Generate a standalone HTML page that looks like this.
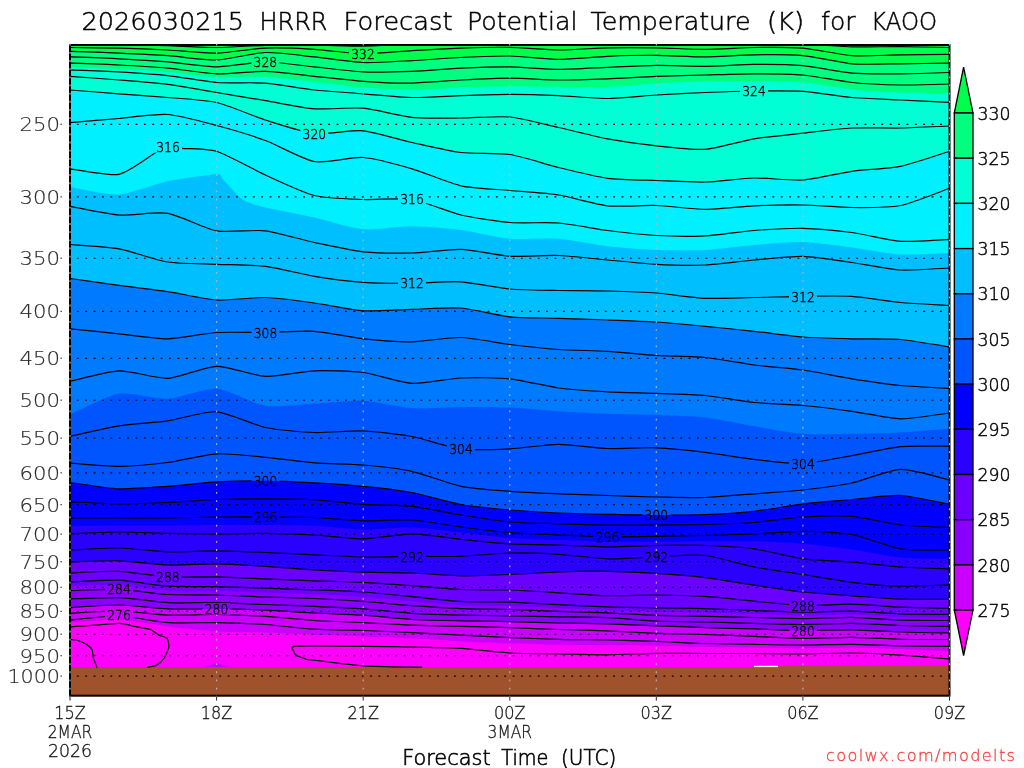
<!DOCTYPE html>
<html lang="en"><head><meta charset="utf-8"><title>HRRR Forecast Potential Temperature (K) for KAOO</title>
<style>
html,body{margin:0;padding:0;background:#fff;}
svg{display:block;}
text{font-family:"DejaVu Sans Light","DejaVu Sans","Liberation Sans",sans-serif;font-weight:200;}
.cl{fill:none;stroke:#000;stroke-width:1.2;stroke-linejoin:round;stroke-linecap:round;}
.lab{font-size:13.2px;fill:#000;stroke:#000;stroke-width:0.45;text-anchor:middle;}
.ax{font-size:19px;fill:#2a2a2a;stroke:#2a2a2a;stroke-width:0.15;}
.xl{font-size:18.2px;fill:#111;stroke:#111;stroke-width:0.3;}
.cb{font-size:16.9px;fill:#000;stroke:#000;stroke-width:0.45;}
.ti{font-size:25.2px;fill:#000;stroke:#000;stroke-width:0.5;}
.xt{font-size:20.6px;fill:#000;stroke:#000;stroke-width:0.6;}
.ft{font-size:16.2px;fill:#fa3c3c;stroke:#fa3c3c;stroke-width:0.3;}
</style></head><body>
<svg width="1024" height="768" viewBox="0 0 1024 768">
<rect x="0" y="0" width="1024" height="768" fill="#fff"/>
<defs>
<clipPath id="pc"><rect x="70" y="45" width="879.5" height="650.7"/></clipPath>
<mask id="lm" maskUnits="userSpaceOnUse" x="0" y="0" width="1024" height="768"><rect x="0" y="0" width="1024" height="768" fill="#fff"/>
<rect x="349" y="47.9" width="28" height="11.8" fill="#000"/>
<rect x="251.3" y="56.1" width="28" height="11.8" fill="#000"/>
<rect x="740" y="85.1" width="28" height="11.8" fill="#000"/>
<rect x="300.3" y="127.9" width="28" height="11.8" fill="#000"/>
<rect x="154" y="140.9" width="28" height="11.8" fill="#000"/>
<rect x="398" y="193.6" width="28" height="11.8" fill="#000"/>
<rect x="398" y="277.4" width="28" height="11.8" fill="#000"/>
<rect x="789" y="290.9" width="28" height="11.8" fill="#000"/>
<rect x="251.5" y="327.1" width="28" height="11.8" fill="#000"/>
<rect x="447" y="443.6" width="28" height="11.8" fill="#000"/>
<rect x="789" y="458.4" width="28" height="11.8" fill="#000"/>
<rect x="251.5" y="474.9" width="28" height="11.8" fill="#000"/>
<rect x="642.3" y="509.1" width="28" height="11.8" fill="#000"/>
<rect x="251.5" y="511.6" width="28" height="11.8" fill="#000"/>
<rect x="593.5" y="530.9" width="28" height="11.8" fill="#000"/>
<rect x="398" y="550.9" width="28" height="11.8" fill="#000"/>
<rect x="642.3" y="550.9" width="28" height="11.8" fill="#000"/>
<rect x="153.8" y="571.6" width="28" height="11.8" fill="#000"/>
<rect x="789" y="600.1" width="28" height="11.8" fill="#000"/>
<rect x="105" y="583.6" width="28" height="11.8" fill="#000"/>
<rect x="202.5" y="602.9" width="28" height="11.8" fill="#000"/>
<rect x="789" y="625.1" width="28" height="11.8" fill="#000"/>
<rect x="105" y="609.6" width="28" height="11.8" fill="#000"/>
</mask>
</defs>
<g clip-path="url(#pc)">
<rect x="70" y="45" width="879.5" height="650.7" fill="#00ff4a"/>
<path d="M70,51.3C75.7,51.5 107.5,52.6 118.9,53.1C130.3,53.6 156.3,54.8 167.7,55.6C179.1,56.4 205.2,60.4 216.6,60C228,59.6 254,52.9 265.4,52.5C276.8,52.1 302.9,55.7 314.3,56.9C325.7,58.1 351.8,62.1 363.2,62.5C374.6,62.9 400.6,61.2 412,60.6C423.4,60 449.5,58 460.9,57.5C472.3,57 498.3,55.8 509.8,56C521.2,56.2 547.2,59.4 558.6,59.4C570,59.4 596.1,56.8 607.5,56.3C618.9,55.8 644.9,55.2 656.3,55.3C667.7,55.4 693.8,57 705.2,56.9C716.6,56.8 742.7,55 754.1,54.8C765.5,54.6 791.5,54.6 802.9,55.6C814.3,56.6 840.4,62.8 851.8,63.8C863.2,64.8 889.2,63.9 900.6,63.8C912,63.7 943.8,63.2 949.5,63.1L951.5,63.1 L951.5,697.7 L68,697.7 L68,51.3Z" fill="#00ff7f"/>
<path d="M70,66.9C75.7,67.1 107.5,68.4 118.9,69C130.3,69.6 156.3,70.9 167.7,71.9C179.1,72.9 205.2,76.9 216.6,77.5C228,78.1 254,76.4 265.4,76.9C276.8,77.4 302.9,80.7 314.3,81.9C325.7,83.1 351.8,86.6 363.2,87.5C374.6,88.4 400.6,90 412,90C423.4,90 449.5,87.9 460.9,87.5C472.3,87.1 498.3,86.4 509.8,86.3C521.2,86.2 547.2,86.8 558.6,86.9C570,87 596.1,87.3 607.5,86.9C618.9,86.5 644.9,84.2 656.3,83.5C667.7,82.8 693.8,81.6 705.2,81.3C716.6,81 742.7,81.2 754.1,81.3C765.5,81.4 791.5,81.4 802.9,82.3C814.3,83.2 840.4,88.2 851.8,89.4C863.2,90.6 889.2,92.1 900.6,92.5C912,92.9 943.8,93 949.5,93.1L951.5,93.1 L951.5,697.7 L68,697.7 L68,66.9Z" fill="#00ffd4"/>
<path d="M70,90C75.7,90.4 107.5,92.9 118.9,93.8C130.3,94.7 156.3,96.5 167.7,97.5C179.1,98.5 205.2,99.9 216.6,102.5C228,105.1 254,116.4 265.4,120C276.8,123.6 302.9,132.2 314.3,133.5C325.7,134.8 351.8,129.8 363.2,130.8C374.6,131.9 400.6,140 412,142.5C423.4,145 449.5,151.1 460.9,152.5C472.3,153.9 498.3,152.8 509.8,154.5C521.2,156.2 547.2,164.7 558.6,167.5C570,170.3 596.1,176.8 607.5,178.3C618.9,179.8 644.9,180.1 656.3,180.5C667.7,180.9 693.8,182.3 705.2,182C716.6,181.7 742.7,178.2 754.1,178C765.5,177.8 791.5,180.8 802.9,180C814.3,179.2 840.4,172.9 851.8,171.3C863.2,169.7 889.2,168.6 900.6,166.3C912,164 943.8,153.1 949.5,151.3L951.5,151.3 L951.5,697.7 L68,697.7 L68,90Z" fill="#00f0ff"/>
<path d="M70,187C75.7,187.9 107.5,195.2 118.9,194.5C130.3,193.8 156.3,183.7 167.7,181.3C179.1,178.9 210.2,174.6 216.6,174.3C223,174 220.4,176.7 222.5,178.8C224.6,180.9 232.4,189.9 235,192.5C237.6,195.1 241.4,199.2 245,201C248.6,202.8 257.4,205.6 265.4,207.5C273.5,209.4 302.9,215 314.3,217.5C325.7,220 351.8,228.3 363.2,229.3C374.6,230.3 400.6,226.2 412,226.3C423.4,226.4 449.5,228.5 460.9,230C472.3,231.5 498.3,237.8 509.8,238.8C521.2,239.8 547.2,237.9 558.6,238.8C570,239.7 596.1,245 607.5,246.3C618.9,247.6 644.9,249.6 656.3,250C667.7,250.4 693.8,250.6 705.2,250C716.6,249.4 742.7,245.9 754.1,245C765.5,244.1 791.5,241.7 802.9,242C814.3,242.3 840.4,246 851.8,247.5C863.2,249 889.2,253.9 900.6,254.5C912,255.1 943.8,253.2 949.5,253L951.5,253 L951.5,697.7 L68,697.7 L68,187Z" fill="#00bfff"/>
<path d="M70,278.5C75.7,279.3 107.5,283.8 118.9,285.3C130.3,286.8 156.3,289.9 167.7,291.6C179.1,293.3 205.2,299.3 216.6,300C228,300.7 254,297.1 265.4,297.5C276.8,297.9 302.9,301.4 314.3,303C325.7,304.6 351.8,310.1 363.2,310.8C374.6,311.5 400.6,309.6 412,309.3C423.4,309 449.5,307.1 460.9,308C472.3,308.9 498.3,315.6 509.8,316.8C521.2,318 547.2,317.9 558.6,318.3C570,318.7 596.1,319.6 607.5,320C618.9,320.4 644.9,321.3 656.3,322C667.7,322.7 693.8,325.2 705.2,326.3C716.6,327.4 742.7,330.1 754.1,331.3C765.5,332.5 791.5,336.1 802.9,337C814.3,337.9 840.4,338.5 851.8,338.8C863.2,339.1 889.2,338.5 900.6,339.5C912,340.5 943.8,346.1 949.5,347L951.5,347 L951.5,697.7 L68,697.7 L68,278.5Z" fill="#007aff"/>
<path d="M70,414.5C75.7,412.1 107.5,395.6 118.9,393.8C130.3,392 156.3,399.4 167.7,398.8C179.1,398.2 205.2,388 216.6,388.8C228,389.6 254,404.1 265.4,405.8C276.8,407.6 302.9,404.4 314.3,403.8C325.7,403.2 351.8,400.3 363.2,400.8C374.6,401.3 400.6,407.6 412,408.3C423.4,409 449.5,407.1 460.9,407C472.3,406.9 498.3,407 509.8,407.5C521.2,408 547.2,410.6 558.6,411.3C570,412 596.1,413.4 607.5,413.8C618.9,414.2 644.9,414.6 656.3,415C667.7,415.4 693.8,416.2 705.2,417.5C716.6,418.8 742.7,424.4 754.1,426.3C765.5,428.2 791.5,432.9 802.9,433.8C814.3,434.7 840.4,434 851.8,433.8C863.2,433.6 889.2,433.1 900.6,432.5C912,431.9 943.8,429.2 949.5,428.8L951.5,428.8 L951.5,697.7 L68,697.7 L68,414.5Z" fill="#0055ff"/>
<path d="M70,482.5C75.7,483.2 107.5,488.4 118.9,488.8C130.3,489.2 156.3,487.1 167.7,486.3C179.1,485.5 205.2,482.4 216.6,481.8C228,481.2 254,480.7 265.4,480.8C276.8,480.9 302.9,482.2 314.3,482.8C325.7,483.4 351.8,485.2 363.2,486.3C374.6,487.4 400.6,490.4 412,492.5C423.4,494.6 449.5,502.5 460.9,504.5C472.3,506.5 498.3,509 509.8,510C521.2,511 547.2,512.5 558.6,513C570,513.5 596.1,514.1 607.5,514.3C618.9,514.5 644.9,515 656.3,515C667.7,515 693.8,514.9 705.2,514.5C716.6,514.1 742.7,512.5 754.1,511.3C765.5,510.1 791.5,505.2 802.9,503.8C814.3,502.4 840.4,500.5 851.8,499.5C863.2,498.5 889.2,494.9 900.6,495.5C912,496.1 943.8,503.3 949.5,504.3L951.5,504.3 L951.5,697.7 L68,697.7 L68,482.5Z" fill="#0000ff"/>
<path d="M70,526.3C75.7,526.2 107.5,525.6 118.9,525.5C130.3,525.4 156.3,525.6 167.7,525.5C179.1,525.4 205.2,525.1 216.6,525C228,524.9 254,524.9 265.4,525C276.8,525.1 302.9,525.2 314.3,525.7C325.7,526.2 351.8,529.3 363.2,529.5C374.6,529.7 400.6,527.1 412,527.5C423.4,527.9 449.5,531.3 460.9,532.5C472.3,533.7 498.3,537.1 509.8,538C521.2,538.9 547.2,539.6 558.6,540C570,540.4 596.1,541.6 607.5,541.8C618.9,542 644.9,541.9 656.3,541.8C667.7,541.7 693.8,541.4 705.2,541.3C716.6,541.2 742.7,541 754.1,541.3C765.5,541.6 791.5,542.8 802.9,543.8C814.3,544.8 840.4,547.9 851.8,549.5C863.2,551.1 889.2,556.4 900.6,557.5C912,558.6 943.8,558.6 949.5,558.8L951.5,558.8 L951.5,697.7 L68,697.7 L68,526.3Z" fill="#2a00ff"/>
<path d="M70,561.8C75.7,561.7 107.5,560.4 118.9,560.8C130.3,561.2 156.3,564.6 167.7,565C179.1,565.4 205.2,563.6 216.6,563.8C228,564 254,565.6 265.4,566.3C276.8,567 302.9,569.3 314.3,570C325.7,570.7 351.8,571.9 363.2,572.2C374.6,572.6 400.6,572.6 412,573C423.4,573.4 449.5,575.6 460.9,575.8C472.3,576 498.3,574.9 509.8,574.5C521.2,574.1 547.2,572.4 558.6,572C570,571.6 596.1,571.1 607.5,571.3C618.9,571.5 644.9,572.7 656.3,573.4C667.7,574.1 693.8,576.2 705.2,577.6C716.6,579 742.7,583.4 754.1,585.1C765.5,586.8 791.5,590.8 802.9,592C814.3,593.2 840.4,595 851.8,595.8C863.2,596.6 889.2,598.8 900.6,599.2C912,599.6 943.8,599.4 949.5,599.4L951.5,599.4 L951.5,697.7 L68,697.7 L68,561.8Z" fill="#6a00ff"/>
<path d="M70,586.3C75.7,586.1 107.5,584.3 118.9,584.8C130.3,585.3 156.3,589.6 167.7,590.4C179.1,591.1 205.2,590.5 216.6,590.8C228,591.1 254,592.2 265.4,592.6C276.8,593 302.9,593.8 314.3,594.2C325.7,594.7 351.8,595.9 363.2,596.7C374.6,597.5 400.6,600.2 412,601.2C423.4,602.2 449.5,604.5 460.9,605C472.3,605.5 498.3,605.5 509.8,605.9C521.2,606.2 547.2,607.5 558.6,608C570,608.5 596.1,609.5 607.5,609.9C618.9,610.3 644.9,611.2 656.3,611.5C667.7,611.9 693.8,612.2 705.2,612.5C716.6,612.8 742.7,613.7 754.1,614C765.5,614.3 791.5,615.3 802.9,615.4C814.3,615.4 840.4,614 851.8,614.2C863.2,614.4 889.2,616.6 900.6,617C912,617.4 943.8,617.4 949.5,617.4L951.5,617.4 L951.5,697.7 L68,697.7 L68,586.3Z" fill="#8a00ff"/>
<path d="M70,607.6C75.7,607.3 107.5,604.8 118.9,605C130.3,605.2 156.3,608.4 167.7,608.9C179.1,609.4 205.2,608.8 216.6,608.9C228,609 254,609.6 265.4,610.1C276.8,610.6 302.9,612.4 314.3,613C325.7,613.6 351.8,614.3 363.2,615.1C374.6,615.9 400.6,618.8 412,619.5C423.4,620.2 449.5,620.6 460.9,620.8C472.3,621 498.3,621.3 509.8,621.6C521.2,621.9 547.2,622.7 558.6,623C570,623.3 596.1,623.6 607.5,623.9C618.9,624.2 644.9,625.4 656.3,625.8C667.7,626.2 693.8,627.2 705.2,627.6C716.6,628 742.7,628.6 754.1,628.9C765.5,629.2 791.5,630.4 802.9,630.5C814.3,630.6 840.4,629.6 851.8,629.8C863.2,630 889.2,631.6 900.6,632C912,632.4 943.8,632.9 949.5,633L951.5,633 L951.5,697.7 L68,697.7 L68,607.6Z" fill="#cc00ff"/>
<path d="M70,622.6C75.7,622.3 107.5,619.7 118.9,620.1C130.3,620.5 156.3,625.1 167.7,626.4C179.1,627.7 205.2,630.7 216.6,631.4C228,632.1 254,632.2 265.4,632.6C276.8,633 302.9,634.4 314.3,634.8C325.7,635.2 351.8,636 363.2,636.4C374.6,636.8 400.6,637.7 412,638.3C423.4,638.9 449.5,640.8 460.9,641.4C472.3,642 498.3,642.9 509.8,643.3C521.2,643.7 547.2,644.6 558.6,644.8C570,645 596.1,645 607.5,645.1C618.9,645.2 644.9,645.6 656.3,645.8C667.7,646 693.8,646.8 705.2,647C716.6,647.2 742.7,647.4 754.1,647.6C765.5,647.8 791.5,648.5 802.9,648.5C814.3,648.5 840.4,647.5 851.8,647.6C863.2,647.7 889.2,648.9 900.6,649.3C912,649.7 943.8,651.2 949.5,651.4L951.5,651.4 L951.5,697.7 L68,697.7 L68,622.6Z" fill="#ff00ff"/>
<polygon points="201.5,667.5 216.6,663 231.5,667.5" fill="#cc00ff"/>
<polygon points="68,667.2 754,667.2 754,667 778,667 778,666.1 952,666.1 952,698 68,698" fill="#a0522d"/>
<rect x="754" y="665.8" width="24" height="1.3" fill="#fff"/>
<g mask="url(#lm)">
<path class="cl" d="M70,620.1C75.7,619.6 107.5,615.7 118.9,616C130.3,616.3 156.3,621.8 167.7,622.6C179.1,623.4 205.2,622.4 216.6,622.6C228,622.8 254,623.7 265.4,624.5C276.8,625.3 302.9,628.5 314.3,629.2C325.7,629.9 351.8,630.1 363.2,630.5C374.6,630.9 400.6,632.1 412,632.6C423.4,633.1 449.5,634.5 460.9,635.1C472.3,635.7 498.3,637.1 509.8,637.6C521.2,638.1 547.2,639 558.6,639.3C570,639.6 596.1,639.7 607.5,639.9C618.9,640.1 644.9,641 656.3,641.4C667.7,641.8 693.8,643.2 705.2,643.5C716.6,643.8 742.7,644.1 754.1,644.3C765.5,644.5 791.5,645.1 802.9,645.1C814.3,645.1 840.4,644.2 851.8,644.3C863.2,644.4 889.2,645.6 900.6,645.8C912,646 943.8,646.3 949.5,646.4"/>
<path class="cl" d="M70,613.3C75.7,613 107.5,610.8 118.9,611C130.3,611.2 156.3,614.7 167.7,615.1C179.1,615.5 205.2,614.3 216.6,614.5C228,614.7 254,615.7 265.4,616.4C276.8,617.1 302.9,619.8 314.3,620.5C325.7,621.2 351.8,622.1 363.2,622.6C374.6,623.1 400.6,624.7 412,625.1C423.4,625.5 449.5,626.1 460.9,626.4C472.3,626.7 498.3,627.2 509.8,627.6C521.2,628 547.2,629.1 558.6,629.5C570,629.9 596.1,630.4 607.5,630.8C618.9,631.2 644.9,632.9 656.3,633.3C667.7,633.7 693.8,634.1 705.2,634.5C716.6,634.9 742.7,636 754.1,636.4C765.5,636.8 791.5,638.2 802.9,638.3C814.3,638.4 840.4,637.2 851.8,637.3C863.2,637.4 889.2,639 900.6,639.3C912,639.6 943.8,639.5 949.5,639.5"/>
<path class="cl" d="M70,607.6C75.7,607.3 107.5,604.8 118.9,605C130.3,605.2 156.3,608.4 167.7,608.9C179.1,609.4 205.2,608.8 216.6,608.9C228,609 254,609.6 265.4,610.1C276.8,610.6 302.9,612.4 314.3,613C325.7,613.6 351.8,614.3 363.2,615.1C374.6,615.9 400.6,618.8 412,619.5C423.4,620.2 449.5,620.6 460.9,620.8C472.3,621 498.3,621.3 509.8,621.6C521.2,621.9 547.2,622.7 558.6,623C570,623.3 596.1,623.6 607.5,623.9C618.9,624.2 644.9,625.4 656.3,625.8C667.7,626.2 693.8,627.2 705.2,627.6C716.6,628 742.7,628.6 754.1,628.9C765.5,629.2 791.5,630.4 802.9,630.5C814.3,630.6 840.4,629.6 851.8,629.8C863.2,630 889.2,631.6 900.6,632C912,632.4 943.8,632.9 949.5,633"/>
<path class="cl" d="M70,598.9C75.7,598.7 107.5,597.2 118.9,597.6C130.3,598 156.3,602 167.7,602.6C179.1,603.2 205.2,602.4 216.6,602.6C228,602.8 254,604.1 265.4,604.5C276.8,604.9 302.9,605.9 314.3,606.4C325.7,606.9 351.8,608.1 363.2,608.9C374.6,609.7 400.6,612.6 412,613.3C423.4,614 449.5,614.8 460.9,615.1C472.3,615.4 498.3,615.6 509.8,615.8C521.2,616 547.2,616.6 558.6,616.8C570,617 596.1,617.1 607.5,617.6C618.9,618.1 644.9,620.5 656.3,621C667.7,621.5 693.8,621.7 705.2,622C716.6,622.3 742.7,623 754.1,623.3C765.5,623.6 791.5,624.5 802.9,624.5C814.3,624.5 840.4,623.2 851.8,623.3C863.2,623.4 889.2,625.1 900.6,625.5C912,625.9 943.8,626.3 949.5,626.4"/>
<path class="cl" d="M70,590.6C75.7,590.5 107.5,588.9 118.9,589.4C130.3,589.9 156.3,593.8 167.7,594.5C179.1,595.2 205.2,594.7 216.6,595C228,595.3 254,596.6 265.4,597C276.8,597.4 302.9,598 314.3,598.5C325.7,599 351.8,600.6 363.2,601.4C374.6,602.2 400.6,604.9 412,605.7C423.4,606.5 449.5,608.2 460.9,608.6C472.3,609 498.3,609.2 509.8,609.5C521.2,609.8 547.2,611 558.6,611.4C570,611.8 596.1,612.4 607.5,612.9C618.9,613.4 644.9,614.9 656.3,615.3C667.7,615.7 693.8,616.1 705.2,616.4C716.6,616.7 742.7,617.2 754.1,617.5C765.5,617.8 791.5,618.6 802.9,618.6C814.3,618.6 840.4,617.1 851.8,617.3C863.2,617.5 889.2,619.7 900.6,620.1C912,620.5 943.8,620.5 949.5,620.5"/>
<path class="cl" d="M70,582C75.7,581.8 107.5,579.7 118.9,580.2C130.3,580.7 156.3,585.5 167.7,586.2C179.1,586.9 205.2,586.4 216.6,586.6C228,586.8 254,587.8 265.4,588.2C276.8,588.6 302.9,589.6 314.3,590C325.7,590.4 351.8,591.2 363.2,592C374.6,592.8 400.6,595.6 412,596.7C423.4,597.8 449.5,600.8 460.9,601.4C472.3,602 498.3,601.8 509.8,602.2C521.2,602.6 547.2,604.1 558.6,604.6C570,605.1 596.1,606.5 607.5,606.9C618.9,607.3 644.9,607.6 656.3,607.8C667.7,608 693.8,608.3 705.2,608.6C716.6,608.9 742.7,610.1 754.1,610.5C765.5,610.9 791.5,612 802.9,612.1C814.3,612.2 840.4,610.9 851.8,611.1C863.2,611.3 889.2,613.5 900.6,613.9C912,614.3 943.8,614.3 949.5,614.3"/>
<path class="cl" d="M70,573C75.7,572.8 107.5,570.8 118.9,571.3C130.3,571.8 156.3,576.4 167.7,577C179.1,577.6 205.2,576.6 216.6,576.8C228,577 254,578.4 265.4,578.9C276.8,579.4 302.9,580.4 314.3,580.8C325.7,581.2 351.8,581.8 363.2,582.4C374.6,583 400.6,584.9 412,585.7C423.4,586.5 449.5,589 460.9,589.5C472.3,590 498.3,589.6 509.8,590C521.2,590.4 547.2,592.1 558.6,592.8C570,593.5 596.1,595.4 607.5,595.7C618.9,596 644.9,594.9 656.3,595C667.7,595.1 693.8,595.7 705.2,596.4C716.6,597.1 742.7,600 754.1,601.1C765.5,602.2 791.5,605.2 802.9,605.6C814.3,606 840.4,603.9 851.8,604.1C863.2,604.3 889.2,606.7 900.6,607.2C912,607.7 943.8,608.2 949.5,608.3"/>
<path class="cl" d="M70,561.8C75.7,561.7 107.5,560.4 118.9,560.8C130.3,561.2 156.3,564.6 167.7,565C179.1,565.4 205.2,563.6 216.6,563.8C228,564 254,565.6 265.4,566.3C276.8,567 302.9,569.3 314.3,570C325.7,570.7 351.8,571.9 363.2,572.2C374.6,572.6 400.6,572.6 412,573C423.4,573.4 449.5,575.6 460.9,575.8C472.3,576 498.3,574.9 509.8,574.5C521.2,574.1 547.2,572.4 558.6,572C570,571.6 596.1,571.1 607.5,571.3C618.9,571.5 644.9,572.7 656.3,573.4C667.7,574.1 693.8,576.2 705.2,577.6C716.6,579 742.7,583.4 754.1,585.1C765.5,586.8 791.5,590.8 802.9,592C814.3,593.2 840.4,595 851.8,595.8C863.2,596.6 889.2,598.8 900.6,599.2C912,599.6 943.8,599.4 949.5,599.4"/>
<path class="cl" d="M70,550C75.7,549.8 107.5,547.8 118.9,548C130.3,548.2 156.3,551.5 167.7,551.8C179.1,552.1 205.2,550.7 216.6,550.8C228,550.9 254,552 265.4,552.5C276.8,553 302.9,554.3 314.3,554.8C325.7,555.3 351.8,556.8 363.2,557C374.6,557.2 400.6,556.6 412,556.5C423.4,556.4 449.5,556.7 460.9,556.3C472.3,555.9 498.3,553.2 509.8,553C521.2,552.8 547.2,553.6 558.6,554.3C570,555 596.1,558.5 607.5,558.8C618.9,559.1 644.9,557.2 656.3,556.8C667.7,556.4 693.8,554.3 705.2,555.5C716.6,556.7 742.7,564.8 754.1,567C765.5,569.2 791.5,572.7 802.9,574.5C814.3,576.3 840.4,580.9 851.8,582.3C863.2,583.7 889.2,585.9 900.6,586.2C912,586.5 943.8,585 949.5,584.8"/>
<path class="cl" d="M70,533.8C75.7,533.6 107.5,532.1 118.9,532C130.3,531.9 156.3,533.1 167.7,533.3C179.1,533.5 205.2,533.8 216.6,533.8C228,533.8 254,533.2 265.4,533.3C276.8,533.4 302.9,534.4 314.3,535C325.7,535.6 351.8,538.9 363.2,538.8C374.6,538.7 400.6,533.7 412,533.8C423.4,533.9 449.5,538.1 460.9,539.3C472.3,540.5 498.3,543.1 509.8,543.8C521.2,544.5 547.2,544.6 558.6,545C570,545.4 596.1,546.7 607.5,546.8C618.9,546.9 644.9,545.7 656.3,545.5C667.7,545.3 693.8,545.1 705.2,545.5C716.6,545.9 742.7,547.2 754.1,548.8C765.5,550.4 791.5,557.3 802.9,558.8C814.3,560.3 840.4,561 851.8,562C863.2,563 889.2,566.2 900.6,567C912,567.8 943.8,568.6 949.5,568.8"/>
<path class="cl" d="M70,518C75.7,518 107.5,518 118.9,518C130.3,518 156.3,518.1 167.7,518C179.1,517.9 205.2,517.1 216.6,517C228,516.9 254,516.9 265.4,517C276.8,517.1 302.9,517.1 314.3,517.5C325.7,517.9 351.8,520.5 363.2,520.8C374.6,521.1 400.6,519.3 412,520C423.4,520.7 449.5,525.5 460.9,527C472.3,528.5 498.3,531.6 509.8,532.5C521.2,533.4 547.2,534.5 558.6,535C570,535.5 596.1,536.6 607.5,536.8C618.9,537 644.9,536.5 656.3,536.3C667.7,536.1 693.8,535.8 705.2,535.5C716.6,535.2 742.7,534.3 754.1,533.8C765.5,533.3 791.5,531.2 802.9,531.3C814.3,531.4 840.4,532.5 851.8,534.5C863.2,536.5 889.2,547 900.6,548.8C912,550.6 943.8,549.9 949.5,550"/>
<path class="cl" d="M70,501.8C75.7,502 107.5,503.7 118.9,503.8C130.3,503.9 156.3,503 167.7,502.5C179.1,502 205.2,499.9 216.6,499.5C228,499.1 254,498.8 265.4,498.8C276.8,498.8 302.9,499.2 314.3,499.8C325.7,500.4 351.8,503.5 363.2,504.3C374.6,505.1 400.6,505.1 412,506.3C423.4,507.5 449.5,513.2 460.9,515C472.3,516.8 498.3,521 509.8,522C521.2,523 547.2,523.4 558.6,523.8C570,524.1 596.1,524.9 607.5,525C618.9,525.1 644.9,525.1 656.3,525C667.7,524.9 693.8,524.8 705.2,524.5C716.6,524.2 742.7,523.4 754.1,522.5C765.5,521.6 791.5,517.7 802.9,517C814.3,516.3 840.4,515.4 851.8,516.3C863.2,517.2 889.2,523.7 900.6,525C912,526.3 943.8,527.2 949.5,527.5"/>
<path class="cl" d="M70,482.5C75.7,483.2 107.5,488.4 118.9,488.8C130.3,489.2 156.3,487.1 167.7,486.3C179.1,485.5 205.2,482.4 216.6,481.8C228,481.2 254,480.7 265.4,480.8C276.8,480.9 302.9,482.2 314.3,482.8C325.7,483.4 351.8,485.2 363.2,486.3C374.6,487.4 400.6,490.4 412,492.5C423.4,494.6 449.5,502.5 460.9,504.5C472.3,506.5 498.3,509 509.8,510C521.2,511 547.2,512.5 558.6,513C570,513.5 596.1,514.1 607.5,514.3C618.9,514.5 644.9,515 656.3,515C667.7,515 693.8,514.9 705.2,514.5C716.6,514.1 742.7,512.5 754.1,511.3C765.5,510.1 791.5,505.2 802.9,503.8C814.3,502.4 840.4,500.5 851.8,499.5C863.2,498.5 889.2,494.9 900.6,495.5C912,496.1 943.8,503.3 949.5,504.3"/>
<path class="cl" d="M70,463C75.7,463.4 107.5,466.4 118.9,466.3C130.3,466.2 156.3,464 167.7,462.5C179.1,461 205.2,454.4 216.6,453.8C228,453.2 254,456.2 265.4,457.3C276.8,458.4 302.9,461.9 314.3,462.8C325.7,463.7 351.8,464 363.2,465C374.6,466 400.6,468.8 412,471.3C423.4,473.8 449.5,484 460.9,486.3C472.3,488.6 498.3,490.4 509.8,491.3C521.2,492.2 547.2,493.3 558.6,493.8C570,494.3 596.1,495.1 607.5,495.5C618.9,495.9 644.9,496.8 656.3,497C667.7,497.2 693.8,497.9 705.2,497.5C716.6,497.1 742.7,494.7 754.1,493.8C765.5,492.9 791.5,491.3 802.9,490C814.3,488.7 840.4,485.4 851.8,483C863.2,480.6 889.2,469.7 900.6,469.3C912,468.9 943.8,478.8 949.5,480"/>
<path class="cl" d="M70,436.3C75.7,435.1 107.5,427.6 118.9,425.8C130.3,424 156.3,422.4 167.7,420.8C179.1,419.2 205.2,411 216.6,411.8C228,412.6 254,425.1 265.4,427.5C276.8,429.9 302.9,432.1 314.3,432.5C325.7,432.9 351.8,430.5 363.2,431C374.6,431.5 400.6,434.4 412,436.5C423.4,438.6 449.5,447.6 460.9,449C472.3,450.4 498.3,449.3 509.8,448.8C521.2,448.3 547.2,444.3 558.6,444.3C570,444.3 596.1,448.1 607.5,448.5C618.9,448.9 644.9,447.4 656.3,447.8C667.7,448.2 693.8,450.9 705.2,452.3C716.6,453.7 742.7,458.1 754.1,459.4C765.5,460.7 791.5,463.9 802.9,463.5C814.3,463.1 840.4,457.6 851.8,455.6C863.2,453.6 889.2,447.7 900.6,446.6C912,445.5 943.8,446.3 949.5,446.3"/>
<path class="cl" d="M70,381.3C75.7,380.1 107.5,371.2 118.9,370.8C130.3,370.4 156.3,378.8 167.7,378.3C179.1,377.8 205.2,366.5 216.6,366.3C228,366.1 254,375.8 265.4,376.3C276.8,376.8 302.9,371.2 314.3,370.8C325.7,370.4 351.8,371 363.2,372.5C374.6,374 400.6,382.7 412,383.3C423.4,383.9 449.5,378.5 460.9,378C472.3,377.5 498.3,377.6 509.8,378.8C521.2,380 547.2,386.5 558.6,388C570,389.5 596.1,391.2 607.5,391.8C618.9,392.4 644.9,392.9 656.3,393.3C667.7,393.7 693.8,394.4 705.2,395.5C716.6,396.6 742.7,401.3 754.1,402.5C765.5,403.7 791.5,404.5 802.9,405.5C814.3,406.5 840.4,409.7 851.8,411.3C863.2,412.9 889.2,418.6 900.6,418.8C912,419 943.8,413.7 949.5,413"/>
<path class="cl" d="M70,328.8C75.7,329.4 107.5,332.6 118.9,333.8C130.3,335 156.3,339 167.7,338.8C179.1,338.6 205.2,333.2 216.6,332.5C228,331.8 254,332.6 265.4,332.5C276.8,332.4 302.9,330.6 314.3,331.3C325.7,332 351.8,337.6 363.2,338.8C374.6,340 400.6,342 412,341.8C423.4,341.6 449.5,337.2 460.9,337.5C472.3,337.8 498.3,343.1 509.8,344.5C521.2,345.9 547.2,348.7 558.6,349.5C570,350.3 596.1,350.6 607.5,351.3C618.9,352 644.9,354.8 656.3,355.5C667.7,356.2 693.8,356.4 705.2,357.5C716.6,358.6 742.7,363.5 754.1,365C765.5,366.5 791.5,368.4 802.9,370C814.3,371.6 840.4,377 851.8,378.8C863.2,380.6 889.2,384.4 900.6,385.5C912,386.6 943.8,388 949.5,388.3"/>
<path class="cl" d="M70,278.5C75.7,279.3 107.5,283.8 118.9,285.3C130.3,286.8 156.3,289.9 167.7,291.6C179.1,293.3 205.2,299.3 216.6,300C228,300.7 254,297.1 265.4,297.5C276.8,297.9 302.9,301.4 314.3,303C325.7,304.6 351.8,310.1 363.2,310.8C374.6,311.5 400.6,309.6 412,309.3C423.4,309 449.5,307.1 460.9,308C472.3,308.9 498.3,315.6 509.8,316.8C521.2,318 547.2,317.9 558.6,318.3C570,318.7 596.1,319.6 607.5,320C618.9,320.4 644.9,321.3 656.3,322C667.7,322.7 693.8,325.2 705.2,326.3C716.6,327.4 742.7,330.1 754.1,331.3C765.5,332.5 791.5,336.1 802.9,337C814.3,337.9 840.4,338.5 851.8,338.8C863.2,339.1 889.2,338.5 900.6,339.5C912,340.5 943.8,346.1 949.5,347"/>
<path class="cl" d="M70,244.5C75.7,245 107.5,246.8 118.9,248.8C130.3,250.8 156.3,260.2 167.7,262C179.1,263.8 205.2,263.8 216.6,264.3C228,264.8 254,264.9 265.4,266.3C276.8,267.7 302.9,274.4 314.3,276.3C325.7,278.2 351.8,281.5 363.2,282.3C374.6,283.1 400.6,283.3 412,283.2C423.4,283.1 449.5,281.1 460.9,281.8C472.3,282.5 498.3,288 509.8,289C521.2,290 547.2,290.3 558.6,290.5C570,290.7 596.1,290.7 607.5,291C618.9,291.3 644.9,292.1 656.3,293C667.7,293.9 693.8,297.8 705.2,298.3C716.6,298.8 742.7,297.7 754.1,297.5C765.5,297.3 791.5,296.4 802.9,296.3C814.3,296.2 840.4,295.6 851.8,296.3C863.2,297 889.2,301.4 900.6,302.5C912,303.6 943.8,305.1 949.5,305.5"/>
<path class="cl" d="M70,206.3C75.7,207.3 107.5,214.2 118.9,215C130.3,215.8 156.3,211.5 167.7,213.3C179.1,215.1 205.2,228.8 216.6,230.8C228,232.8 254,229.4 265.4,230.8C276.8,232.2 302.9,240.1 314.3,242.5C325.7,244.9 351.8,250.6 363.2,251.8C374.6,253 400.6,253.3 412,253C423.4,252.7 449.5,248.9 460.9,249.3C472.3,249.7 498.3,255.6 509.8,256.3C521.2,257 547.2,255.1 558.6,255.5C570,255.9 596.1,259 607.5,260C618.9,261 644.9,263.7 656.3,264.3C667.7,264.9 693.8,265.5 705.2,265C716.6,264.5 742.7,261 754.1,260C765.5,259 791.5,256 802.9,256.3C814.3,256.6 840.4,260.9 851.8,262.5C863.2,264.1 889.2,269.4 900.6,270C912,270.6 943.8,268.2 949.5,268"/>
<path class="cl" d="M70,168.8C75.7,169.4 108.8,176.3 118.9,174.3C129,172.3 150.9,155.1 156.6,151.9C162.3,148.7 164.8,147.6 167.7,147.2C170.7,146.8 176.3,147.8 182,148.3C187.7,148.8 206.8,148.2 216.6,151.3C226.3,154.4 254,169.8 265.4,175C276.8,180.2 302.9,192.6 314.3,195.5C325.7,198.4 351.8,199 363.2,199.5C374.6,200 400.6,197.7 412,199.5C423.4,201.3 449.5,212.3 460.9,215C472.3,217.7 498.3,221.6 509.8,222.5C521.2,223.4 547.2,222.1 558.6,223C570,223.9 596.1,229 607.5,230.5C618.9,232 644.9,234.9 656.3,235.5C667.7,236.1 693.8,236.4 705.2,235.8C716.6,235.2 742.7,231.4 754.1,230.5C765.5,229.6 791.5,228.1 802.9,228.3C814.3,228.5 840.4,231 851.8,232.5C863.2,234 889.2,240.5 900.6,241.3C912,242.1 943.8,239.5 949.5,239.3"/>
<path class="cl" d="M70,122.7C75.7,122.2 107.5,119.5 118.9,118.5C130.3,117.5 156.3,113.7 167.7,114.5C179.1,115.3 205.2,122.5 216.6,125.5C228,128.5 254,136.3 265.4,140.5C276.8,144.7 302.9,159.5 314.3,161.5C325.7,163.5 351.8,156.6 363.2,157.5C374.6,158.4 400.6,165.5 412,168.8C423.4,172.1 449.5,183.3 460.9,185.8C472.3,188.3 498.3,189.4 509.8,190.5C521.2,191.6 547.2,193.2 558.6,195C570,196.8 596.1,204.6 607.5,205.8C618.9,207 644.9,205.1 656.3,205.5C667.7,205.9 693.8,209.3 705.2,209.3C716.6,209.3 742.7,206.3 754.1,205.8C765.5,205.3 791.5,204.8 802.9,205C814.3,205.2 840.4,207.4 851.8,207.5C863.2,207.6 889.2,207.7 900.6,205.5C912,203.3 943.8,190.3 949.5,188.3"/>
<path class="cl" d="M70,90C75.7,90.4 107.5,92.9 118.9,93.8C130.3,94.7 156.3,96.5 167.7,97.5C179.1,98.5 205.2,99.9 216.6,102.5C228,105.1 254,116.4 265.4,120C276.8,123.6 302.9,132.2 314.3,133.5C325.7,134.8 351.8,129.8 363.2,130.8C374.6,131.9 400.6,140 412,142.5C423.4,145 449.5,151.1 460.9,152.5C472.3,153.9 498.3,152.8 509.8,154.5C521.2,156.2 547.2,164.7 558.6,167.5C570,170.3 596.1,176.8 607.5,178.3C618.9,179.8 644.9,180.1 656.3,180.5C667.7,180.9 693.8,182.3 705.2,182C716.6,181.7 742.7,178.2 754.1,178C765.5,177.8 791.5,180.8 802.9,180C814.3,179.2 840.4,172.9 851.8,171.3C863.2,169.7 889.2,168.6 900.6,166.3C912,164 943.8,153.1 949.5,151.3"/>
<path class="cl" d="M70,76.3C75.7,76.7 107.5,79.1 118.9,80C130.3,80.9 156.3,82.9 167.7,84.4C179.1,85.9 205.2,90.6 216.6,92.5C228,94.4 254,98.7 265.4,100.6C276.8,102.5 302.9,107.9 314.3,108.8C325.7,109.7 351.8,107.2 363.2,108.2C374.6,109.2 400.6,116.2 412,117.3C423.4,118.4 449.5,118 460.9,118C472.3,118 498.3,115.9 509.8,117C521.2,118.1 547.2,125 558.6,127.5C570,130 596.1,136.7 607.5,138.8C618.9,140.9 644.9,144.6 656.3,145.8C667.7,147 693.8,150.1 705.2,149.3C716.6,148.5 742.7,140.7 754.1,138.8C765.5,136.9 791.5,134.5 802.9,133.2C814.3,131.9 840.4,128.6 851.8,128C863.2,127.4 889.2,128.2 900.6,128C912,127.8 943.8,126.2 949.5,126"/>
<path class="cl" d="M70,70C75.7,70.2 107.5,71.2 118.9,71.9C130.3,72.6 156.3,74.4 167.7,75.6C179.1,76.8 205.2,81.6 216.6,82.5C228,83.4 254,82.2 265.4,83.1C276.8,84 302.9,88.8 314.3,90C325.7,91.2 351.8,92.9 363.2,93.8C374.6,94.7 400.6,97.3 412,97.5C423.4,97.7 449.5,96 460.9,95.6C472.3,95.2 498.3,94.4 509.8,94.4C521.2,94.4 547.2,95.1 558.6,95.6C570,96.1 596.1,98.6 607.5,98.5C618.9,98.4 644.9,95.7 656.3,95C667.7,94.3 693.8,93 705.2,92.5C716.6,92 742.7,91.1 754.1,91C765.5,90.9 791.5,90.5 802.9,91.3C814.3,92.1 840.4,96.5 851.8,97.5C863.2,98.5 889.2,99.4 900.6,100C912,100.6 943.8,102 949.5,102.3"/>
<path class="cl" d="M70,63.1C75.7,63.3 107.5,64.4 118.9,65C130.3,65.6 156.3,67.1 167.7,68.1C179.1,69.1 205.2,73.4 216.6,73.8C228,74.2 254,71 265.4,71.3C276.8,71.6 302.9,75.1 314.3,76.3C325.7,77.5 351.8,80.5 363.2,81.3C374.6,82.1 400.6,83.3 412,83.1C423.4,82.9 449.5,80.6 460.9,80C472.3,79.4 498.3,78.1 509.8,78.1C521.2,78.1 547.2,79.9 558.6,80C570,80.1 596.1,79.2 607.5,78.8C618.9,78.4 644.9,76.7 656.3,76.3C667.7,75.9 693.8,75.3 705.2,75C716.6,74.7 742.7,73.8 754.1,73.8C765.5,73.8 791.5,74 802.9,75C814.3,76 840.4,81.3 851.8,82.5C863.2,83.7 889.2,84.8 900.6,85C912,85.2 943.8,84.1 949.5,84"/>
<path class="cl" d="M70,56.9C75.7,57.1 107.5,58.2 118.9,58.8C130.3,59.4 156.3,61 167.7,61.9C179.1,62.8 205.2,66.9 216.6,66.9C228,66.9 254,62 265.4,62C276.8,62 302.9,65.7 314.3,66.9C325.7,68.1 351.8,71.4 363.2,71.9C374.6,72.4 400.6,71.7 412,71.3C423.4,70.9 449.5,68.6 460.9,68.1C472.3,67.6 498.3,66.7 509.8,66.9C521.2,67.1 547.2,69.4 558.6,69.4C570,69.4 596.1,67.8 607.5,67.3C618.9,66.8 644.9,65.5 656.3,65.4C667.7,65.3 693.8,66.4 705.2,66.3C716.6,66.2 742.7,64.5 754.1,64.4C765.5,64.3 791.5,64.6 802.9,65.6C814.3,66.6 840.4,72.1 851.8,73.1C863.2,74.1 889.2,73.9 900.6,73.8C912,73.7 943.8,72.7 949.5,72.5"/>
<path class="cl" d="M70,51.3C75.7,51.5 107.5,52.6 118.9,53.1C130.3,53.6 156.3,54.8 167.7,55.6C179.1,56.4 205.2,60.4 216.6,60C228,59.6 254,52.9 265.4,52.5C276.8,52.1 302.9,55.7 314.3,56.9C325.7,58.1 351.8,62.1 363.2,62.5C374.6,62.9 400.6,61.2 412,60.6C423.4,60 449.5,58 460.9,57.5C472.3,57 498.3,55.8 509.8,56C521.2,56.2 547.2,59.4 558.6,59.4C570,59.4 596.1,56.8 607.5,56.3C618.9,55.8 644.9,55.2 656.3,55.3C667.7,55.4 693.8,57 705.2,56.9C716.6,56.8 742.7,55 754.1,54.8C765.5,54.6 791.5,54.6 802.9,55.6C814.3,56.6 840.4,62.8 851.8,63.8C863.2,64.8 889.2,63.9 900.6,63.8C912,63.7 943.8,63.2 949.5,63.1"/>
<path class="cl" d="M70,47.5C75.7,47.6 107.5,47.8 118.9,48.1C130.3,48.4 156.3,49.4 167.7,50C179.1,50.6 205.2,53.3 216.6,53.1C228,52.9 254,48.5 265.4,48.1C276.8,47.7 302.9,48.7 314.3,49.4C325.7,50.1 351.8,53.7 363.2,53.8C374.6,53.9 400.6,51.3 412,50.6C423.4,49.9 449.5,48.5 460.9,48.1C472.3,47.7 498.3,47.1 509.8,47.3C521.2,47.5 547.2,49.9 558.6,50C570,50.1 596.1,48.1 607.5,47.8C618.9,47.5 644.9,47.6 656.3,47.8C667.7,48 693.8,49.4 705.2,49.4C716.6,49.4 742.7,47.7 754.1,47.5C765.5,47.3 791.5,47.2 802.9,48.1C814.3,49 840.4,54.8 851.8,55.6C863.2,56.4 889.2,54.9 900.6,54.8C912,54.7 943.8,54.4 949.5,54.4"/>
<path class="cl" d="M70,44C75.7,44 107.5,43.8 118.9,44C130.3,44.2 156.3,45.2 167.7,45.6C179.1,46 205.2,47.5 216.6,47.5C228,47.5 254,45.6 265.4,45.3C276.8,45 302.9,44.9 314.3,45C325.7,45.1 351.8,46.3 363.2,46.2C374.6,46.1 400.6,44.3 412,44C423.4,43.7 449.5,44 460.9,44C472.3,44 498.3,44 509.8,44C521.2,44 547.2,44 558.6,44C570,44 596.1,44 607.5,44C618.9,44 644.9,44 656.3,44C667.7,44 693.8,44 705.2,44C716.6,44 742.7,44 754.1,44C765.5,44 791.5,43.7 802.9,44C814.3,44.3 840.4,46.6 851.8,46.9C863.2,47.2 889.2,46.5 900.6,46.6C912,46.7 943.8,47.4 949.5,47.5"/>
<path class="cl" d="M70,627C75.7,626.6 111.4,623.4 118.9,623.3C126.4,623.2 130.3,625.7 134,626.4C137.7,627.1 147.4,628.5 150.3,629.5C153.2,630.5 157,634.1 159,635.1C161,636.1 166,636.9 167.1,638.3C168.2,639.7 169.2,644.7 168.8,647C168.4,649.3 165.4,656.2 164,658.3C162.6,660.4 158.4,664.1 156.5,665.1C154.6,666.1 148.6,667 147.5,667.2"/>
<path class="cl" d="M421.5,667.2C414.7,667 375.7,666.6 363.2,665.8C350.7,665 320.6,660.8 314.3,660.1C308,659.4 310.7,660.4 309,660C307.3,659.6 301.6,657.6 300,657C298.4,656.4 296.1,655.3 295.3,654.5C294.5,653.7 293.6,651.3 293.2,650.5C292.8,649.7 291.7,648.1 292,647.6C292.3,647.1 293.4,646.4 296,646.2C298.6,646 306.5,645.8 314.3,645.8C322.1,645.8 351.8,646.3 363.2,646.4C374.6,646.5 400.6,646.8 412,647C423.4,647.2 449.5,647.6 460.9,648.3C472.3,649 498.3,652.3 509.8,653C521.2,653.7 547.2,653.7 558.6,653.9C570,654.1 596.1,654.9 607.5,654.8C618.9,654.7 644.9,653.5 656.3,653.3C667.7,653.1 693.8,653.5 705.2,653.5C716.6,653.5 742.7,653.5 754.1,653.5C765.5,653.5 791.5,654 802.9,653.9C814.3,653.8 840.4,652.9 851.8,653C863.2,653.1 889.2,654.4 900.6,655.1C912,655.8 943.8,658.5 949.5,658.9"/>
<path class="cl" d="M70,639.5C70.8,639.6 74.6,639.4 76.5,640C78.4,640.6 84.7,643.4 86.5,644.5C88.3,645.6 91.2,647.9 92,649.5C92.8,651.1 92.8,655.9 93.4,658C94,660.1 96.5,666.1 96.9,667.2"/>
</g>
<text class="lab" x="363" y="58.6" textLength="23.4" lengthAdjust="spacingAndGlyphs">332</text>
<text class="lab" x="265.3" y="66.8" textLength="23.4" lengthAdjust="spacingAndGlyphs">328</text>
<text class="lab" x="754" y="95.8" textLength="23.4" lengthAdjust="spacingAndGlyphs">324</text>
<text class="lab" x="314.3" y="138.6" textLength="23.4" lengthAdjust="spacingAndGlyphs">320</text>
<text class="lab" x="168" y="151.6" textLength="23.4" lengthAdjust="spacingAndGlyphs">316</text>
<text class="lab" x="412" y="204.3" textLength="23.4" lengthAdjust="spacingAndGlyphs">316</text>
<text class="lab" x="412" y="288.1" textLength="23.4" lengthAdjust="spacingAndGlyphs">312</text>
<text class="lab" x="803" y="301.6" textLength="23.4" lengthAdjust="spacingAndGlyphs">312</text>
<text class="lab" x="265.5" y="337.8" textLength="23.4" lengthAdjust="spacingAndGlyphs">308</text>
<text class="lab" x="461" y="454.3" textLength="23.4" lengthAdjust="spacingAndGlyphs">304</text>
<text class="lab" x="803" y="469.1" textLength="23.4" lengthAdjust="spacingAndGlyphs">304</text>
<text class="lab" x="265.5" y="485.6" textLength="23.4" lengthAdjust="spacingAndGlyphs">300</text>
<text class="lab" x="656.3" y="519.8" textLength="23.4" lengthAdjust="spacingAndGlyphs">300</text>
<text class="lab" x="265.5" y="522.3" textLength="23.4" lengthAdjust="spacingAndGlyphs">296</text>
<text class="lab" x="607.5" y="541.6" textLength="23.4" lengthAdjust="spacingAndGlyphs">296</text>
<text class="lab" x="412" y="561.6" textLength="23.4" lengthAdjust="spacingAndGlyphs">292</text>
<text class="lab" x="656.3" y="561.6" textLength="23.4" lengthAdjust="spacingAndGlyphs">292</text>
<text class="lab" x="167.8" y="582.3" textLength="23.4" lengthAdjust="spacingAndGlyphs">288</text>
<text class="lab" x="803" y="610.8" textLength="23.4" lengthAdjust="spacingAndGlyphs">288</text>
<text class="lab" x="119" y="594.3" textLength="23.4" lengthAdjust="spacingAndGlyphs">284</text>
<text class="lab" x="216.5" y="613.6" textLength="23.4" lengthAdjust="spacingAndGlyphs">280</text>
<text class="lab" x="803" y="635.8" textLength="23.4" lengthAdjust="spacingAndGlyphs">280</text>
<text class="lab" x="119" y="620.3" textLength="23.4" lengthAdjust="spacingAndGlyphs">276</text>
<g mask="url(#lm)">
<line x1="68.5" y1="124.3" x2="949.5" y2="124.3" stroke="#000" stroke-width="1.15" stroke-dasharray="1.8 6.58"/>
<line x1="68.5" y1="196.9" x2="949.5" y2="196.9" stroke="#000" stroke-width="1.15" stroke-dasharray="1.8 6.58"/>
<line x1="68.5" y1="258.2" x2="949.5" y2="258.2" stroke="#000" stroke-width="1.15" stroke-dasharray="1.8 6.58"/>
<line x1="68.5" y1="311.4" x2="949.5" y2="311.4" stroke="#000" stroke-width="1.15" stroke-dasharray="1.8 6.58"/>
<line x1="68.5" y1="358.3" x2="949.5" y2="358.3" stroke="#000" stroke-width="1.15" stroke-dasharray="1.8 6.58"/>
<line x1="68.5" y1="400.2" x2="949.5" y2="400.2" stroke="#000" stroke-width="1.15" stroke-dasharray="1.8 6.58"/>
<line x1="68.5" y1="438.1" x2="949.5" y2="438.1" stroke="#000" stroke-width="1.15" stroke-dasharray="1.8 6.58"/>
<line x1="68.5" y1="472.8" x2="949.5" y2="472.8" stroke="#000" stroke-width="1.15" stroke-dasharray="1.8 6.58"/>
<line x1="68.5" y1="504.6" x2="949.5" y2="504.6" stroke="#000" stroke-width="1.15" stroke-dasharray="1.8 6.58"/>
<line x1="68.5" y1="534.1" x2="949.5" y2="534.1" stroke="#000" stroke-width="1.15" stroke-dasharray="1.8 6.58"/>
<line x1="68.5" y1="561.6" x2="949.5" y2="561.6" stroke="#000" stroke-width="1.15" stroke-dasharray="1.8 6.58"/>
<line x1="68.5" y1="587.3" x2="949.5" y2="587.3" stroke="#000" stroke-width="1.15" stroke-dasharray="1.8 6.58"/>
<line x1="68.5" y1="611.4" x2="949.5" y2="611.4" stroke="#000" stroke-width="1.15" stroke-dasharray="1.8 6.58"/>
<line x1="68.5" y1="634.2" x2="949.5" y2="634.2" stroke="#000" stroke-width="1.15" stroke-dasharray="1.8 6.58"/>
<line x1="68.5" y1="655.7" x2="949.5" y2="655.7" stroke="#000" stroke-width="1.15" stroke-dasharray="1.8 6.58"/>
<line x1="68.5" y1="676.1" x2="949.5" y2="676.1" stroke="#000" stroke-width="1.15" stroke-dasharray="1.8 6.58"/>
</g>
</g>
<rect x="70" y="45" width="879.5" height="650.7" fill="none" stroke="#000" stroke-width="2"/>
<g mask="url(#lm)">
<line x1="70" y1="43.8" x2="70" y2="696.5" stroke="#b8b8b8" stroke-width="1.15" stroke-dasharray="1.8 6.35"/>
<line x1="216.6" y1="43.8" x2="216.6" y2="696.5" stroke="#b8b8b8" stroke-width="1.15" stroke-dasharray="1.8 6.35"/>
<line x1="363.2" y1="43.8" x2="363.2" y2="696.5" stroke="#b8b8b8" stroke-width="1.15" stroke-dasharray="1.8 6.35"/>
<line x1="509.8" y1="43.8" x2="509.8" y2="696.5" stroke="#b8b8b8" stroke-width="1.15" stroke-dasharray="1.8 6.35"/>
<line x1="656.3" y1="43.8" x2="656.3" y2="696.5" stroke="#b8b8b8" stroke-width="1.15" stroke-dasharray="1.8 6.35"/>
<line x1="802.9" y1="43.8" x2="802.9" y2="696.5" stroke="#b8b8b8" stroke-width="1.15" stroke-dasharray="1.8 6.35"/>
<line x1="949.5" y1="43.8" x2="949.5" y2="696.5" stroke="#b8b8b8" stroke-width="1.15" stroke-dasharray="1.8 6.35"/>
</g>
<line x1="70" y1="696.5" x2="70" y2="700.6" stroke="#222" stroke-width="1"/>
<text class="xl" x="70" y="718.8" text-anchor="middle" textLength="31.5" lengthAdjust="spacingAndGlyphs">15Z</text>
<line x1="216.6" y1="696.5" x2="216.6" y2="700.6" stroke="#222" stroke-width="1"/>
<text class="xl" x="216.6" y="718.8" text-anchor="middle" textLength="31.5" lengthAdjust="spacingAndGlyphs">18Z</text>
<line x1="363.2" y1="696.5" x2="363.2" y2="700.6" stroke="#222" stroke-width="1"/>
<text class="xl" x="363.2" y="718.8" text-anchor="middle" textLength="31.5" lengthAdjust="spacingAndGlyphs">21Z</text>
<line x1="509.8" y1="696.5" x2="509.8" y2="700.6" stroke="#222" stroke-width="1"/>
<text class="xl" x="509.8" y="718.8" text-anchor="middle" textLength="31.5" lengthAdjust="spacingAndGlyphs">00Z</text>
<line x1="656.3" y1="696.5" x2="656.3" y2="700.6" stroke="#222" stroke-width="1"/>
<text class="xl" x="656.3" y="718.8" text-anchor="middle" textLength="31.5" lengthAdjust="spacingAndGlyphs">03Z</text>
<line x1="802.9" y1="696.5" x2="802.9" y2="700.6" stroke="#222" stroke-width="1"/>
<text class="xl" x="802.9" y="718.8" text-anchor="middle" textLength="31.5" lengthAdjust="spacingAndGlyphs">06Z</text>
<line x1="949.5" y1="696.5" x2="949.5" y2="700.6" stroke="#222" stroke-width="1"/>
<text class="xl" x="949.5" y="718.8" text-anchor="middle" textLength="31.5" lengthAdjust="spacingAndGlyphs">09Z</text>
<text class="xl" x="70" y="737.6" text-anchor="middle" textLength="44.5" lengthAdjust="spacingAndGlyphs">2MAR</text>
<text class="xl" x="70" y="757" text-anchor="middle" textLength="44" lengthAdjust="spacingAndGlyphs">2026</text>
<text class="xl" x="509.8" y="737.6" text-anchor="middle" textLength="44.5" lengthAdjust="spacingAndGlyphs">3MAR</text>
<text class="ax" x="60" y="131.3" text-anchor="end" textLength="40.5" lengthAdjust="spacingAndGlyphs">250</text>
<rect x="60.4" y="123.7" width="1.6" height="1.2" fill="#555"/>
<text class="ax" x="60" y="203.9" text-anchor="end" textLength="40.5" lengthAdjust="spacingAndGlyphs">300</text>
<rect x="60.4" y="196.3" width="1.6" height="1.2" fill="#555"/>
<text class="ax" x="60" y="265.2" text-anchor="end" textLength="40.5" lengthAdjust="spacingAndGlyphs">350</text>
<rect x="60.4" y="257.6" width="1.6" height="1.2" fill="#555"/>
<text class="ax" x="60" y="318.4" text-anchor="end" textLength="40.5" lengthAdjust="spacingAndGlyphs">400</text>
<rect x="60.4" y="310.8" width="1.6" height="1.2" fill="#555"/>
<text class="ax" x="60" y="365.3" text-anchor="end" textLength="40.5" lengthAdjust="spacingAndGlyphs">450</text>
<rect x="60.4" y="357.7" width="1.6" height="1.2" fill="#555"/>
<text class="ax" x="60" y="407.2" text-anchor="end" textLength="40.5" lengthAdjust="spacingAndGlyphs">500</text>
<rect x="60.4" y="399.6" width="1.6" height="1.2" fill="#555"/>
<text class="ax" x="60" y="445.1" text-anchor="end" textLength="40.5" lengthAdjust="spacingAndGlyphs">550</text>
<rect x="60.4" y="437.5" width="1.6" height="1.2" fill="#555"/>
<text class="ax" x="60" y="479.8" text-anchor="end" textLength="40.5" lengthAdjust="spacingAndGlyphs">600</text>
<rect x="60.4" y="472.2" width="1.6" height="1.2" fill="#555"/>
<text class="ax" x="60" y="511.6" text-anchor="end" textLength="40.5" lengthAdjust="spacingAndGlyphs">650</text>
<rect x="60.4" y="504" width="1.6" height="1.2" fill="#555"/>
<text class="ax" x="60" y="541.1" text-anchor="end" textLength="40.5" lengthAdjust="spacingAndGlyphs">700</text>
<rect x="60.4" y="533.5" width="1.6" height="1.2" fill="#555"/>
<text class="ax" x="60" y="568.6" text-anchor="end" textLength="40.5" lengthAdjust="spacingAndGlyphs">750</text>
<rect x="60.4" y="561" width="1.6" height="1.2" fill="#555"/>
<text class="ax" x="60" y="594.3" text-anchor="end" textLength="40.5" lengthAdjust="spacingAndGlyphs">800</text>
<rect x="60.4" y="586.7" width="1.6" height="1.2" fill="#555"/>
<text class="ax" x="60" y="618.4" text-anchor="end" textLength="40.5" lengthAdjust="spacingAndGlyphs">850</text>
<rect x="60.4" y="610.8" width="1.6" height="1.2" fill="#555"/>
<text class="ax" x="60" y="641.2" text-anchor="end" textLength="40.5" lengthAdjust="spacingAndGlyphs">900</text>
<rect x="60.4" y="633.6" width="1.6" height="1.2" fill="#555"/>
<text class="ax" x="60" y="662.7" text-anchor="end" textLength="40.5" lengthAdjust="spacingAndGlyphs">950</text>
<rect x="60.4" y="655.1" width="1.6" height="1.2" fill="#555"/>
<text class="ax" x="60" y="683.1" text-anchor="end" textLength="52.5" lengthAdjust="spacingAndGlyphs">1000</text>
<rect x="60.4" y="675.5" width="1.6" height="1.2" fill="#555"/>
<g stroke="#000" stroke-width="1.3" stroke-linejoin="miter">
<polygon points="954.3,113 963.6,67.2 973,113" fill="#00ff4a"/>
<rect x="954.3" y="113" width="18.7" height="45.2" fill="#00ff7f"/>
<rect x="954.3" y="158.2" width="18.7" height="45.2" fill="#00ffd4"/>
<rect x="954.3" y="203.4" width="18.7" height="45.2" fill="#00f0ff"/>
<rect x="954.3" y="248.6" width="18.7" height="45.2" fill="#00bfff"/>
<rect x="954.3" y="293.8" width="18.7" height="45.2" fill="#007aff"/>
<rect x="954.3" y="338.9" width="18.7" height="45.2" fill="#0055ff"/>
<rect x="954.3" y="384.1" width="18.7" height="45.2" fill="#0000ff"/>
<rect x="954.3" y="429.3" width="18.7" height="45.2" fill="#2a00ff"/>
<rect x="954.3" y="474.5" width="18.7" height="45.2" fill="#6a00ff"/>
<rect x="954.3" y="519.7" width="18.7" height="45.2" fill="#8a00ff"/>
<rect x="954.3" y="564.9" width="18.7" height="45.2" fill="#cc00ff"/>
<polygon points="954.3,610 963.6,655.5 973,610" fill="#ff00ff"/>
</g>
<text class="cb" x="977.6" y="119.6" textLength="33" lengthAdjust="spacingAndGlyphs">330</text>
<text class="cb" x="977.6" y="164.8" textLength="33" lengthAdjust="spacingAndGlyphs">325</text>
<text class="cb" x="977.6" y="210" textLength="33" lengthAdjust="spacingAndGlyphs">320</text>
<text class="cb" x="977.6" y="255.2" textLength="33" lengthAdjust="spacingAndGlyphs">315</text>
<text class="cb" x="977.6" y="300.4" textLength="33" lengthAdjust="spacingAndGlyphs">310</text>
<text class="cb" x="977.6" y="345.6" textLength="33" lengthAdjust="spacingAndGlyphs">305</text>
<text class="cb" x="977.6" y="390.7" textLength="33" lengthAdjust="spacingAndGlyphs">300</text>
<text class="cb" x="977.6" y="435.9" textLength="33" lengthAdjust="spacingAndGlyphs">295</text>
<text class="cb" x="977.6" y="481.1" textLength="33" lengthAdjust="spacingAndGlyphs">290</text>
<text class="cb" x="977.6" y="526.3" textLength="33" lengthAdjust="spacingAndGlyphs">285</text>
<text class="cb" x="977.6" y="571.5" textLength="33" lengthAdjust="spacingAndGlyphs">280</text>
<text class="cb" x="977.6" y="616.6" textLength="33" lengthAdjust="spacingAndGlyphs">275</text>
<text class="ti" x="81.5" y="30" textLength="162.5" lengthAdjust="spacingAndGlyphs">2026030215</text>
<text class="ti" x="259.5" y="30" textLength="68" lengthAdjust="spacingAndGlyphs">HRRR</text>
<text class="ti" x="343.5" y="30" textLength="109" lengthAdjust="spacingAndGlyphs">Forecast</text>
<text class="ti" x="466.9" y="30" textLength="110.6" lengthAdjust="spacingAndGlyphs">Potential</text>
<text class="ti" x="590.5" y="30" textLength="160" lengthAdjust="spacingAndGlyphs">Temperature</text>
<text class="ti" x="767" y="30" textLength="37.2" lengthAdjust="spacingAndGlyphs">(K)</text>
<text class="ti" x="821.1" y="30" textLength="34.4" lengthAdjust="spacingAndGlyphs">for</text>
<text class="ti" x="871" y="30" textLength="66.1" lengthAdjust="spacingAndGlyphs">KAOO</text>
<text class="xt" x="402.2" y="764.7" textLength="88.4" lengthAdjust="spacingAndGlyphs">Forecast</text>
<text class="xt" x="501.3" y="764.7" textLength="47.1" lengthAdjust="spacingAndGlyphs">Time</text>
<text class="xt" x="561" y="764.7" textLength="55.2" lengthAdjust="spacingAndGlyphs">(UTC)</text>
<text class="ft" x="826" y="760.8" textLength="189" lengthAdjust="spacing">coolwx.com/modelts</text>
</svg>
</body></html>
